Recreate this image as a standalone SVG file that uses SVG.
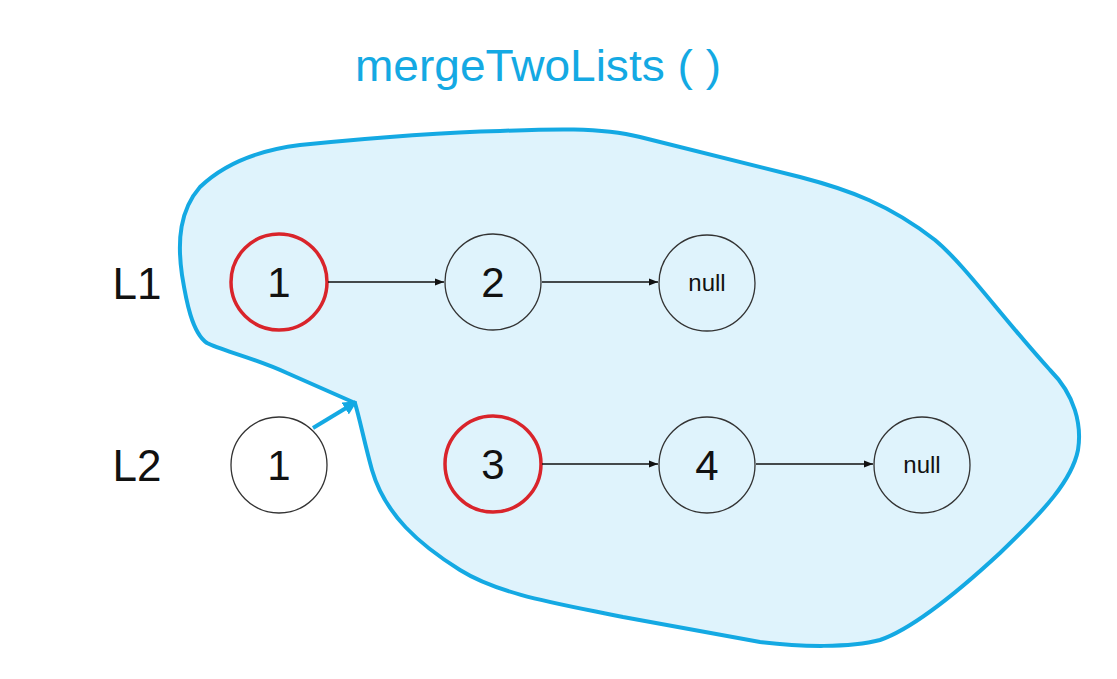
<svg xmlns="http://www.w3.org/2000/svg" width="1117" height="679" viewBox="0 0 1117 679">
<style>
.lbl{font-family:"Liberation Sans",Arial,sans-serif;fill:#111;}
.num{font-size:42px;text-anchor:middle;}
.nul{font-size:24px;text-anchor:middle;}
.node{fill:none;stroke:#333;stroke-width:1.3;}
.hot{fill:none;stroke:#d9242b;stroke-width:3.5;}
.link{stroke:#111;stroke-width:1.6;fill:none;marker-end:url(#ah);}
</style>
<defs>
<marker id="ah" viewBox="0 0 10 10" refX="10" refY="5" markerWidth="9" markerHeight="9" markerUnits="userSpaceOnUse" orient="auto"><path d="M0,1 L10,5 L0,9 z" fill="#111"/></marker>
<marker id="bh" viewBox="0 0 10 10" refX="9" refY="5" markerWidth="14" markerHeight="14" markerUnits="userSpaceOnUse" orient="auto"><path d="M0,0 L10,5 L0,10 z" fill="#14a9e3"/></marker>
</defs>
<rect width="1117" height="679" fill="#fff"/>
<g id="blob">
<path d="M355,403 C330,392 305,381 287,373 C255,358 220,350 207,343 C192,333 186,300 182,275 C177,240 180,210 200,187 C225,163 260,150 300,145 C380,137 450,132 500,131 C550,129 600,127 640,137 L800,177 C850,190 890,205 935,240 C965,265 1000,315 1050,370 C1075,395 1082,425 1078,450 C1072,480 1045,510 1000,553 C960,590 915,628 880,640 C850,648 800,647 760,642 L623,617 C560,604 500,595 460,570 C420,545 385,515 372,470 C365,445 360,420 355,403 Z" fill="#dff3fc" stroke="#14a9e3" stroke-width="4" stroke-linejoin="round"/>
</g>
<g id="title"><text x="538" y="81" class="lbl" style="fill:#14a9e3;font-size:44px;" text-anchor="middle" textLength="366" lengthAdjust="spacingAndGlyphs">mergeTwoLists ( )</text></g>
<g id="label-L1"><text x="137" y="299" class="lbl" style="font-size:44px" text-anchor="middle">L1</text></g>
<g id="label-L2"><text x="137" y="481" class="lbl" style="font-size:44px" text-anchor="middle">L2</text></g>
<g id="l1-n1"><circle cx="279" cy="282" r="48" class="hot"/><text x="279" y="297" class="lbl num">1</text></g>
<g id="l1-n2"><circle cx="493" cy="282" r="48" class="node"/><text x="493" y="297" class="lbl num">2</text></g>
<g id="l1-null"><circle cx="707" cy="283" r="48" class="node"/><text x="707" y="291" class="lbl nul">null</text></g>
<g id="l2-n1"><circle cx="279" cy="465" r="48" class="node"/><text x="279" y="480" class="lbl num">1</text></g>
<g id="l2-n3"><circle cx="493" cy="464" r="48" class="hot"/><text x="493" y="479" class="lbl num">3</text></g>
<g id="l2-n4"><circle cx="707" cy="465" r="48" class="node"/><text x="707" y="480" class="lbl num">4</text></g>
<g id="l2-null"><circle cx="922" cy="465" r="48" class="node"/><text x="922" y="473" class="lbl nul">null</text></g>
<g id="connectors">
<line x1="328" y1="282" x2="444" y2="282" class="link"/>
<line x1="542" y1="282" x2="658" y2="282" class="link"/>
<line x1="542" y1="464" x2="658" y2="464" class="link"/>
<line x1="756" y1="464" x2="873" y2="464" class="link"/>
<line x1="313" y1="428" x2="356" y2="402" stroke="#14a9e3" stroke-width="4" marker-end="url(#bh)"/>
</g>
</svg>
